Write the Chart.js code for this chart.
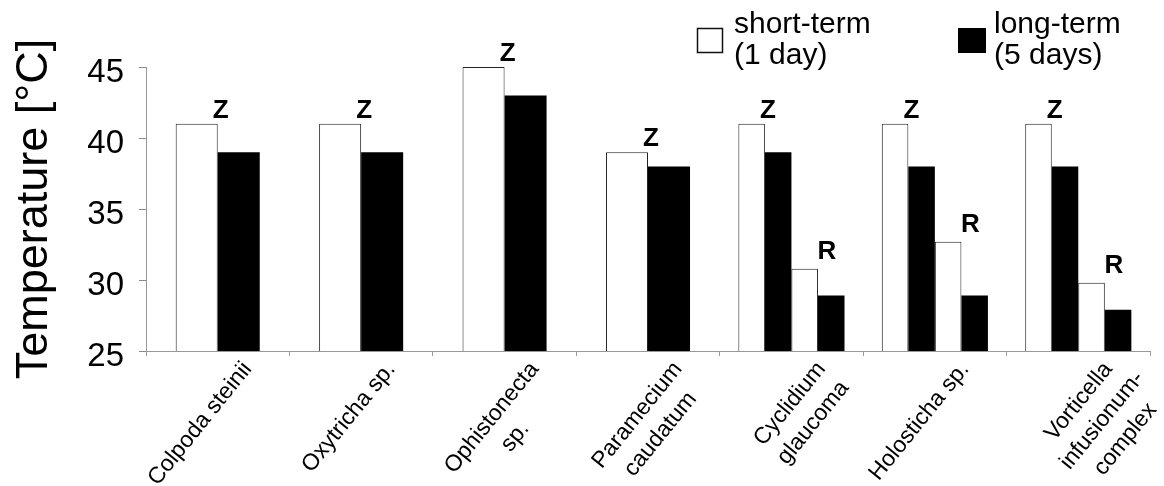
<!DOCTYPE html>
<html>
<head>
<meta charset="utf-8">
<script src="https://cdn.jsdelivr.net/npm/chart.js@4.4.1/dist/chart.umd.min.js"></script>
<style>
  html, body { margin: 0; padding: 0; background: #fff; }
  #wrap { width: 1164px; height: 486px; }
</style>
</head>
<body>
<div id="wrap"><canvas id="chart-temp"></canvas></div>
<script>
// Daten
var species = [
    ['Colpoda steinii'],
    ['Oxytricha sp.'],
    ['Ophistonecta', 'sp.'],
    ['Paramecium', 'caudatum'],
    ['Cyclidium', 'glaucoma'],
    ['Holosticha sp.'],
    ['Vorticella', 'infusionum-', 'complex']
];
var shortTerm  = [41, 41, 45, 39, 41, 41, 41];
var longTerm   = [39, 39, 43, 38, 39, 38, 38];
var shortTermR = [null, null, null, null, 30.8, 32.7, 29.8];
var longTermR  = [null, null, null, null, 28.9, 28.9, 27.9];
var zLetters = ['Z', 'Z', 'Z', 'Z', 'Z', 'Z', 'Z'];
var rLetters = ['', '', '', '', 'R', 'R', 'R'];
var yTicks = [25, 30, 35, 40, 45];
var legendLabels = [['short-term', '(1 day)'], ['long-term', '(5 days)']];

var FONT = '"Liberation Sans", Arial, sans-serif';
var hasR = shortTermR.map(v => v !== null);
var only = (arr, keep) => arr.map((v, i) => keep(i) ? v : null);

var canv = document.getElementById('chart-temp');
var context = canv.getContext('2d');

// Buchstaben, x-Beschriftung und Legende
var annotate = {
    id: 'annotate',
    afterDraw: (chart) => {
        var ctx = chart.ctx;
        ctx.save();
        ctx.fillStyle = '#000';
        ctx.font = 'bold 26px ' + FONT;
        ctx.textAlign = 'center';
        ctx.textBaseline = 'alphabetic';
        for (var i = 0; i < species.length; i++) {
            var zs = chart.getDatasetMeta(hasR[i] ? 2 : 0).data[i];
            var zl = chart.getDatasetMeta(hasR[i] ? 3 : 1).data[i];
            ctx.fillText(zLetters[i], zs.x + zs.width / 2 + 3, Math.min(zs.y, zl.y) - 6);
            if (rLetters[i]) {
                var rs = chart.getDatasetMeta(4).data[i];
                var rl = chart.getDatasetMeta(5).data[i];
                ctx.fillText(rLetters[i], rs.x + rs.width / 2 + 9, Math.min(rs.y, rl.y) - 10);
            }
        }

        // Artnamen, gedreht, Zeilen zentriert
        var xs = chart.scales.x;
        ctx.font = '23px ' + FONT;
        ctx.textBaseline = 'top';
        species.forEach((lines, i) => {
            var w0 = ctx.measureText(lines[0]).width;
            ctx.save();
            ctx.translate(xs.getPixelForValue(i) + 21, xs.top + 7);
            ctx.rotate(-51 * Math.PI / 180);
            lines.forEach((l, j) => ctx.fillText(l, -w0 / 2, j * 30));
            ctx.restore();
        });

        // Legende
        ctx.font = '30px ' + FONT;
        ctx.textAlign = 'left';
        ctx.textBaseline = 'alphabetic';
        ctx.fillStyle = '#fff';
        ctx.fillRect(697, 28, 26, 25);
        ctx.strokeStyle = '#111';
        ctx.lineWidth = 1.5;
        ctx.strokeRect(697.5, 28.5, 25, 24);
        ctx.fillStyle = '#000';
        ctx.fillRect(958, 28, 28, 25);
        ctx.fillText(legendLabels[0][0], 734, 33);
        ctx.fillText(legendLabels[0][1], 734, 64);
        ctx.fillText(legendLabels[1][0], 994, 33);
        ctx.fillText(legendLabels[1][1], 994, 64);
        ctx.restore();
    }
};

var whiteBar = { backgroundColor: '#fff', borderColor: '#222', borderWidth: 1 };
var blackBar = { backgroundColor: '#000', borderColor: '#000', borderWidth: 0 };

var data = {
    labels: species,
    datasets: [
        Object.assign({ label: 'short-term (1 day)', data: only(shortTerm, i => !hasR[i]), categoryPercentage: 0.586 }, whiteBar),
        Object.assign({ label: 'long-term (5 days)', data: only(longTerm, i => !hasR[i]), categoryPercentage: 0.586 }, blackBar),
        Object.assign({ label: 'short-term Z', data: only(shortTerm, i => hasR[i]), categoryPercentage: 0.74 }, whiteBar),
        Object.assign({ label: 'long-term Z', data: only(longTerm, i => hasR[i]), categoryPercentage: 0.74 }, blackBar),
        Object.assign({ label: 'short-term R', data: shortTermR, categoryPercentage: 0.74 }, whiteBar),
        Object.assign({ label: 'long-term R', data: longTermR, categoryPercentage: 0.74 }, blackBar)
    ]
};

var config = {
    type: 'bar',
    data: data,
    options: {
        responsive: true,
        maintainAspectRatio: false,
        animation: false,
        skipNull: true,
        barPercentage: 1,
        layout: { padding: { top: 67, right: 14, left: 0, bottom: 0 } },
        plugins: { legend: { display: false }, tooltip: { enabled: false } },
        scales: {
            x: {
                grid: { drawOnChartArea: false, drawTicks: true, tickLength: 5, color: '#999', offset: true },
                border: { color: '#999' },
                ticks: { display: false },
                afterFit: (scale) => { scale.height = 135; }
            },
            y: {
                min: yTicks[0],
                max: yTicks[yTicks.length - 1],
                grid: { drawOnChartArea: false, tickLength: 7, color: '#888' },
                border: { color: '#999' },
                ticks: {
                    stepSize: yTicks[1] - yTicks[0],
                    color: '#000',
                    font: { family: FONT, size: 33 },
                    padding: 15,
                    labelOffset: 6
                },
                title: {
                    display: true,
                    text: 'Temperature [°C]',
                    color: '#000',
                    font: { family: FONT, size: 45 },
                    padding: { top: 8, bottom: 0 }
                },
                afterFit: (scale) => { scale.width = 146; }
            }
        }
    },
    plugins: [annotate]
};

var chart1 = new Chart(context, config);
</script>
</body>
</html>
